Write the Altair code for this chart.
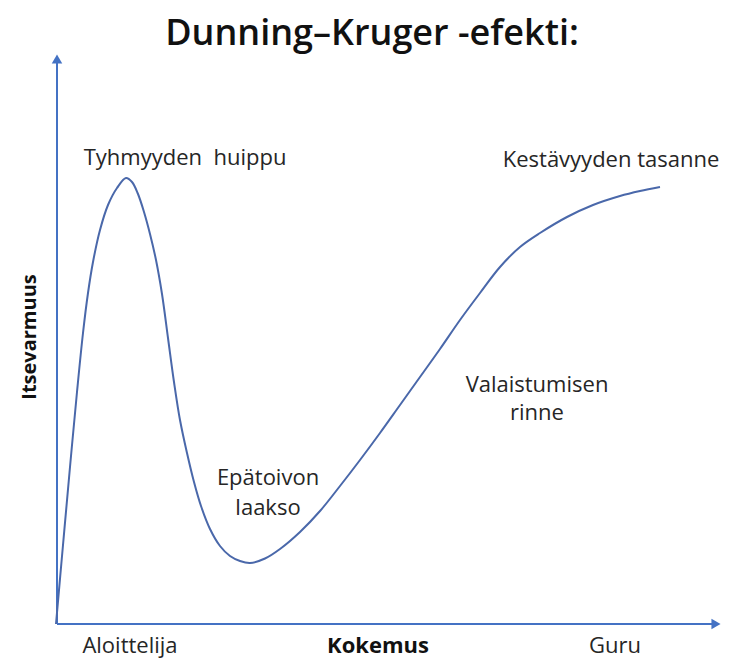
import altair as alt
import pandas as pd

# Curve (experience vs confidence), pixels
curve_px = [56, 63, 70, 77, 83, 88, 93, 100, 108, 117, 126, 132, 138, 144, 150, 156, 162, 168, 174,
            180, 187, 194, 201, 210, 220, 230, 240, 250, 265, 280, 300, 320, 340, 360, 380, 400,
            420, 440, 460, 480, 500, 520, 540, 567, 593, 620, 640, 660]
curve_py = [624, 545, 467, 392, 333, 293, 262, 230, 205, 188, 178, 182, 194, 212, 234, 260, 294,
            338, 382, 420, 453, 482, 506, 529, 546, 556, 561, 563, 558.5, 549, 532, 511, 486, 460,
            433, 405, 377, 349, 320, 293, 267, 247, 233, 217, 205, 196, 191, 187]
ORIGIN_PX, ORIGIN_PY = 57, 624
curve_x = [p - ORIGIN_PX for p in curve_px]
curve_y = [ORIGIN_PY - p for p in curve_py]

# Annotation labels
label_text = ["Tyhmyyden\u00a0 huippu", "Kestävyyden tasanne", "Valaistumisen", "rinne",
              "Epätoivon", "laakso", "Aloittelija", "Guru"]
label_x = [128, 554, 480, 480, 211, 211, 73, 558]
label_y = [466, 464, 239, 211, 146, 116, -22, -22]

title_text = ["Dunning–Kruger -efekti:"]
title_x = [315]
title_y = [590]

xlab_text = ["Kokemus"]
xlab_x = [321]
xlab_y = [-22]

ylab_text = ["Itsevarmuus"]
ylab_x = [-27]
ylab_y = [287]

# axis extents
axis_x_end = [660]
axis_y_end = [562]

XMAX, YMAX = 665, 571
xs = alt.Scale(domain=[0, XMAX], nice=False, zero=False)
ys = alt.Scale(domain=[0, YMAX], nice=False, zero=False)

AXIS_COL = "#4472C4"
CURVE_COL = "#4A68AA"
TEXT_COL = "#262626"
FONT = "Open Sans"

curve_df = pd.DataFrame({"x": curve_x, "y": curve_y})
lab_df = pd.DataFrame({"t": label_text, "x": label_x, "y": label_y})
title_df = pd.DataFrame({"t": title_text, "x": title_x, "y": title_y})
xlab_df = pd.DataFrame({"t": xlab_text, "x": xlab_x, "y": xlab_y})
ylab_df = pd.DataFrame({"t": ylab_text, "x": ylab_x, "y": ylab_y})

xaxis_df = pd.DataFrame({"x": [0], "x2": axis_x_end, "y": [0]})
yaxis_df = pd.DataFrame({"x": [0], "y": [0], "y2": axis_y_end})
xarrow_df = pd.DataFrame({"x": [XMAX - 6], "y": [0]})
yarrow_df = pd.DataFrame({"x": [0], "y": [YMAX - 6]})

X = lambda f="x": alt.X(f, type="quantitative", scale=xs, axis=None)
Y = lambda f="y": alt.Y(f, type="quantitative", scale=ys, axis=None)

xaxis = alt.Chart(xaxis_df).mark_rule(color=AXIS_COL, strokeWidth=2).encode(
    x=X(), x2="x2", y=Y())
yaxis = alt.Chart(yaxis_df).mark_rule(color=AXIS_COL, strokeWidth=2).encode(
    x=X(), y=Y(), y2="y2")
xarrow = alt.Chart(xarrow_df).mark_point(shape="triangle-right", filled=True, size=110,
                                         opacity=1, color=AXIS_COL).encode(x=X(), y=Y())
yarrow = alt.Chart(yarrow_df).mark_point(shape="triangle-up", filled=True, size=110,
                                         opacity=1, color=AXIS_COL).encode(x=X(), y=Y())

curve = alt.Chart(curve_df).mark_line(color=CURVE_COL, strokeWidth=2, interpolate="catmull-rom").encode(
    x=X(), y=Y())

labels = alt.Chart(lab_df).mark_text(font=FONT, fontSize=22, color=TEXT_COL,
                                     align="center", baseline="middle").encode(
    x=X(), y=Y(), text="t:N")
title = alt.Chart(title_df).mark_text(font=FONT, fontSize=36, fontWeight=600, color="#111111",
                                      align="center", baseline="middle").encode(
    x=X(), y=Y(), text="t:N")
xlab = alt.Chart(xlab_df).mark_text(font=FONT, fontSize=22, fontWeight="bold", color="#111111",
                                    align="center", baseline="middle").encode(
    x=X(), y=Y(), text="t:N")
ylab = alt.Chart(ylab_df).mark_text(font=FONT, fontSize=20, fontWeight="bold", color="#111111",
                                    align="center", baseline="middle", angle=270).encode(
    x=X(), y=Y(), text="t:N")

chart = alt.layer(xaxis, yaxis, xarrow, yarrow, curve, labels, title, xlab, ylab).properties(
    width=XMAX, height=YMAX,
    autosize=alt.AutoSizeParams(type="none"),
    padding={"left": 49, "top": 45, "right": 1, "bottom": 34},
    background="white",
).configure_view(stroke=None)

chart.save("out.html", embed_options={"renderer": "svg", "actions": False})
